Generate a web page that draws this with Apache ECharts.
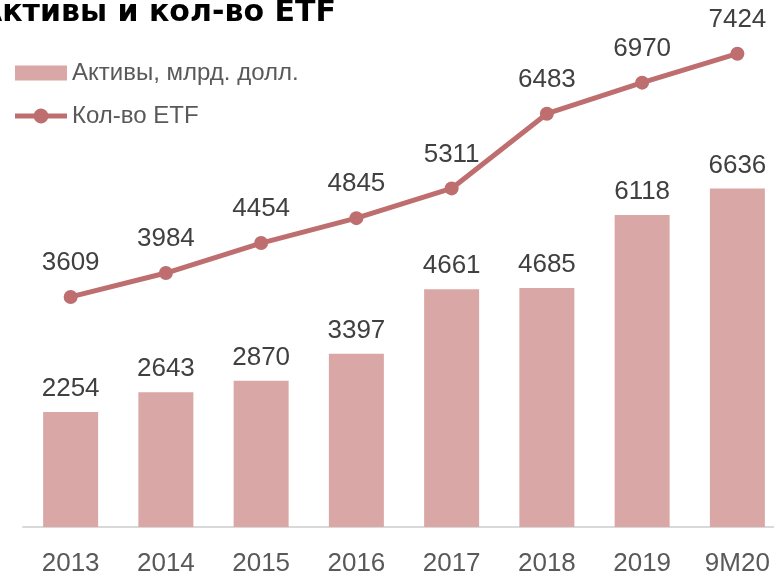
<!DOCTYPE html>
<html>
<head>
<meta charset="utf-8">
<script src="https://cdn.jsdelivr.net/npm/echarts@6/dist/echarts.min.js"></script>
<style>
  html, body { margin: 0; padding: 0; background: #fff; }
  #chart { width: 774px; height: 577px; }
</style>
</head>
<body>
<div id="chart"></div>
<script>
// данные графика
var years = ['2013', '2014', '2015', '2016', '2017', '2018', '2019', '9M20'];
var assets = [2254, 2643, 2870, 3397, 4661, 4685, 6118, 6636];
var etfCount = [3609, 3984, 4454, 4845, 5311, 6483, 6970, 7424];

var myChart = echarts.init(document.getElementById('chart'));
var font = 'Liberation Sans';
var lineColor = '#bf6e6f';

// значок легенды: линия с кружком
var lineIcon = 'path://M0,5L18.93,5A7.5,7.5 0 0 1 33.07,5L52,5L52,10L33.07,10A7.5,7.5 0 0 1 18.93,10L0,10Z';

var option = {
  animation: false,
  title: {
    text: 'Активы и кол-во ETF',
    left: -21,
    top: -2,
    padding: 0,
    textStyle: { fontFamily: 'DejaVu Sans', fontWeight: 'bold', fontSize: 30, color: '#000' }
  },
  legend: {
    orient: 'vertical',
    left: 15,
    top: 61,
    padding: 0,
    itemWidth: 52,
    itemHeight: 15,
    itemGap: 19,
    textStyle: { fontFamily: font, fontSize: 24, color: '#595959' },
    data: [
      { name: 'Активы, млрд. долл.', icon: 'rect' },
      { name: 'Кол-во ETF', icon: lineIcon }
    ]
  },
  grid: { left: 23, width: 762, top: 17, bottom: 50, outerBoundsMode: 'none', containLabel: false },
  xAxis: {
    type: 'category',
    data: years,
    axisLine: { lineStyle: { color: '#d9d9d9', width: 2 } },
    axisTick: { show: false },
    axisLabel: { fontFamily: font, fontSize: 26, color: '#595959', margin: 24 }
  },
  yAxis: [
    { type: 'value', min: 0, max: 10000, show: false, splitLine: { show: false } },
    { type: 'value', min: 0, max: 8000, show: false, splitLine: { show: false } }
  ],
  series: [
    {
      name: 'Активы, млрд. долл.',
      type: 'bar',
      data: assets,
      barWidth: 55,
      itemStyle: { color: '#d9a7a6' },
      label: {
        show: true, position: 'top', distance: 10,
        fontFamily: font, fontSize: 26, color: '#404040'
      }
    },
    {
      name: 'Кол-во ETF',
      type: 'line',
      yAxisIndex: 1,
      data: etfCount,
      symbol: 'circle',
      symbolSize: 14,
      lineStyle: { color: lineColor, width: 5 },
      itemStyle: { color: lineColor },
      label: {
        show: true, position: 'top', distance: 14,
        fontFamily: font, fontSize: 26, color: '#404040'
      },
      z: 5
    }
  ]
};

myChart.setOption(option);
</script>
</body>
</html>
